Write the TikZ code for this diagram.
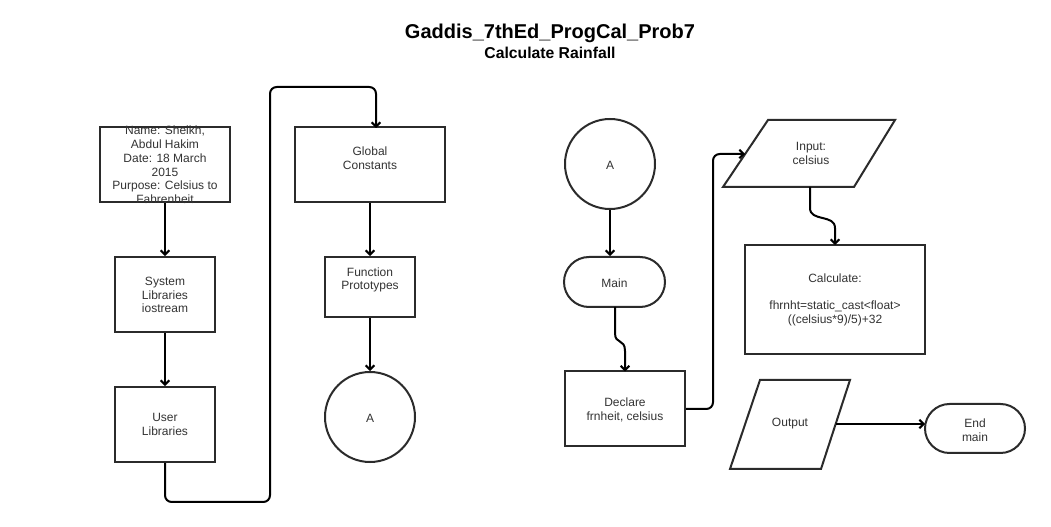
\documentclass[tikz,border=0pt]{standalone}
\usepackage{fontspec}
\setmainfont{Liberation Sans}
\usetikzlibrary{arrows.meta,calc}
\definecolor{edge}{HTML}{2B2B2B}
\definecolor{txtc}{HTML}{333333}
\tikzset{
  shapebox/.style={draw=edge, line width=1.5pt, fill=white, inner sep=0pt},
  txt/.style={text=txtc, font=\fontsize{9pt}{10.3pt}\selectfont, align=center, inner sep=0pt},
  conn/.style={draw=black, line width=1.5pt, rounded corners=5pt, -{Straight Barb[length=3.2pt,width=6.5pt]}},
  plain/.style={draw=black, line width=1.5pt, rounded corners=5pt},
}
\begin{document}
\begin{tikzpicture}[x=0.75pt,y=-0.75pt]
\useasboundingbox[fill=white] (0,0) rectangle (1051,527);

% titles
\node[font=\bfseries\fontsize{15pt}{17pt}\selectfont, inner sep=0pt] (title) at (550,33) {Gaddis\_7thEd\_ProgCal\_Prob7};
\node[font=\bfseries\fontsize{11.8pt}{14pt}\selectfont, inner sep=0pt] (subtitle) at (550,53) {Calculate Rainfall};

% left column
\node[shapebox, minimum width=97.5pt, minimum height=56.25pt] (info) at (165,165) {};
\node[txt] (infot) at (165,165) {Name: Sheikh,\\Abdul Hakim\\Date: 18 March\\2015\\Purpose: Celsius to\\Fahrenheit};
\node[shapebox, minimum width=75.5pt, minimum height=56.25pt] (syslib) at (165,294.5) {};
\node[txt] (syslibt) at (165,295) {System\\Libraries\\iostream};
\node[shapebox, minimum width=75.5pt, minimum height=56.25pt] (userlib) at (165,424.5) {};
\node[txt] (userlibt) at (165,424.5) {User\\Libraries};

% middle column
\node[shapebox, minimum width=112.5pt, minimum height=56.25pt] (global) at (370,165) {};
\node[txt] (globalt) at (370,158) {Global\\Constants};
\node[shapebox, minimum width=67.5pt, minimum height=45pt] (func) at (370,287) {};
\node[txt] (funct) at (370,280) {Function\\Prototypes};
\node[shapebox, circle, minimum size=67.5pt] (circA) at (370,417) {};
\node[txt] (circAt) at (370,418) {A};

% right side
\node[shapebox, circle, minimum size=67.5pt] (circB) at (610,164) {};
\node[txt] (circBt) at (610,165) {A};
\node[shapebox, rounded corners=18.75pt, minimum width=75.75pt, minimum height=37.5pt] (main) at (614.5,282) {};
\node[txt] (maint) at (614.5,283) {Main};
\node[shapebox, minimum width=90pt, minimum height=56.25pt] (declare) at (625,409) {};
\node[txt] (declaret) at (625,410) {Declare\\frnheit, celsius};

% input parallelogram
\coordinate (i1) at (768,120);
\coordinate (i2) at (895,120);
\coordinate (i3) at (854,187);
\coordinate (i4) at (723,187);
\draw[draw=edge, line width=1.5pt, fill=white, line join=miter] (i1) -- (i2) -- (i3) -- (i4) -- cycle;
\node[txt] (input) at (811,153.5) {Input:\\celsius};
\coordinate (inIn) at (745,154);
\coordinate (inOut) at (810,187);

% calculate box
\node[shapebox, minimum width=135pt, minimum height=81.75pt] (calc) at (835,299.5) {};
\node[txt] (calct) at (835,300) {Calculate:\\\mbox{}\\fhrnht=static\_cast<float>\\((celsius*9)/5)+32};

% output parallelogram
\coordinate (o1) at (760,380);
\coordinate (o2) at (850,380);
\coordinate (o3) at (821,469);
\coordinate (o4) at (730,469);
\draw[draw=edge, line width=1.5pt, fill=white, line join=miter] (o1) -- (o2) -- (o3) -- (o4) -- cycle;
\node[txt] (output) at (790,424) {Output};
\coordinate (outOut) at (835.5,424);

% end terminal
\node[shapebox, rounded corners=18.4pt, minimum width=75pt, minimum height=36.75pt] (endm) at (975,428.5) {};
\node[txt] (endmt) at (975,430) {End\\main};
\coordinate (endIn) at (925,424);

% connectors
\draw[conn] (info.south) -- (syslib.north);
\draw[conn] (syslib.south) -- (userlib.north);
\coordinate (gIn) at (376,128);
\draw[conn] (userlib.south) -- (165,502) -- (270,502) -- (270,87) -- (376,87) -- (gIn);
\draw[conn] (global.south) -- (func.north);
\draw[conn] (func.south) -- (circA.north);

\draw[conn] (circB.south) -- (circB.south |- main.north);
\coordinate (mOut) at (615,307);
\coordinate (dIn) at (625,371.5);
\draw[conn, rounded corners=0pt] (mOut) -- (615,333) .. controls (615,345) and (625,338) .. (625,351) -- (dIn);
\draw[conn] (declare.east) -- (713,409) -- (713,154) -- (inIn);
\coordinate (cIn) at (835,245);
\draw[conn, rounded corners=0pt] (inOut) -- (810,208) .. controls (810,222) and (835,214) .. (835,228) -- (cIn);
\draw[conn] (outOut) -- (endIn);
\end{tikzpicture}
\end{document}
